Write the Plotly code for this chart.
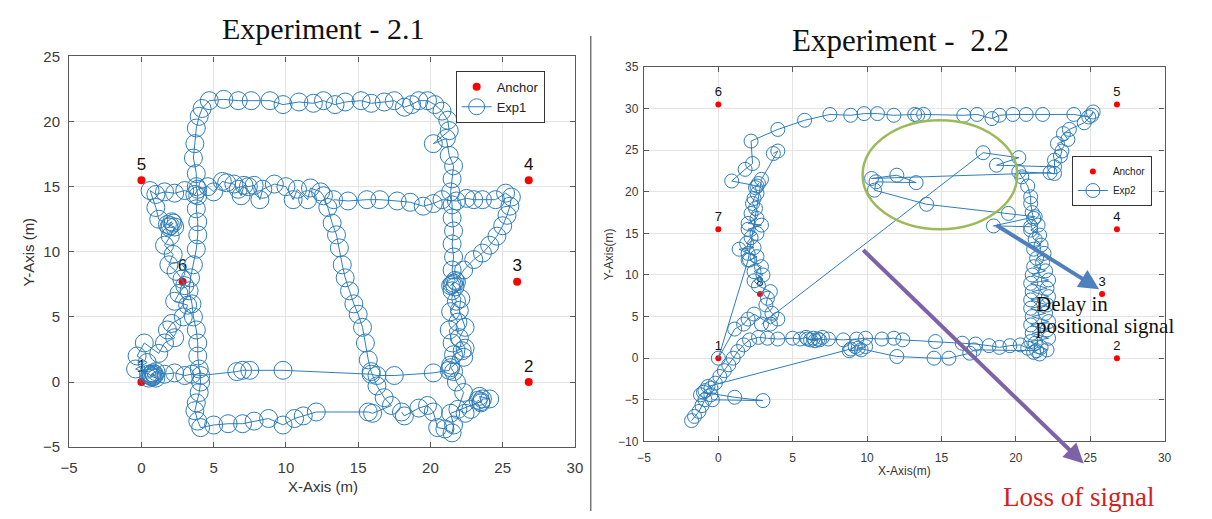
import plotly.graph_objects as go

W, H = 1212, 519

# ---------------- anchors ----------------
anchors1_x = [0.0, 26.8, 26.0, 26.8, 0.0, 2.85]
anchors1_y = [0.0, 0.0, 7.7, 15.5, 15.5, 7.7]
anchors1_lbl = ["1", "2", "3", "4", "5", "6"]

anchors2_x = [0.0, 26.8, 25.8, 26.8, 26.8, 0.0, 0.0, 2.8]
anchors2_y = [0.0, 0.0, 7.7, 15.5, 30.5, 30.5, 15.5, 7.7]
anchors2_lbl = ["1", "2", "3", "4", "5", "6", "7", "8"]

# ---------------- Exp1 track (x, y in metres) ----------------
exp1_start = [(0.7, 0.4), (0.9, 0.6), (0.6, 0.5), (1.0, 0.3), (0.8, 0.7), (0.5, 0.3),
              (0.9, 0.5), (0.7, 0.6), (1.0, 0.8)]
exp1_low_row = [(1.6, 0.6), (2.3, 0.7), (3.0, 0.5), (3.5, 0.6), (4.1, 0.5), (6.6, 0.8),
                (7.0, 0.9), (7.5, 0.9), (9.8, 0.9), (15.9, 0.6), (16.3, 0.5), (17.5, 0.5),
                (20.2, 0.7), (21.3, 0.9)]
exp1_right_up = [(21.4, 1.3), (21.6, 2.1), (22.2, 2.4), (21.5, 3.0), (21.3, 4.0), (21.9, 4.6),
                 (21.4, 5.4), (21.8, 6.2), (21.5, 7.0), (21.6, 7.6), (21.4, 7.4), (21.7, 7.8),
                 (21.5, 8.6), (21.6, 9.6), (21.5, 10.6), (21.6, 11.6), (21.5, 12.6), (21.5, 13.6),
                 (21.4, 14.6), (21.5, 15.6), (21.6, 16.6), (21.3, 17.4), (21.1, 18.7), (20.2, 18.3),
                 (21.3, 19.3), (21.2, 20.1), (20.8, 20.8), (20.3, 21.3), (19.8, 21.6)]
exp1_top_row = [(19.2, 21.6), (18.7, 21.3), (18.2, 21.1), (17.5, 21.6), (16.8, 21.5), (15.9, 21.4),
                (15.2, 21.6), (14.1, 21.5), (13.4, 21.3), (12.6, 21.6), (11.9, 21.4), (10.9, 21.5),
                (9.8, 21.3), (8.9, 21.6), (7.6, 21.6), (6.7, 21.6), (5.7, 21.7), (4.7, 21.6)]
exp1_left_down = [(4.2, 21.0), (4.0, 20.4), (3.8, 19.5), (3.7, 18.3), (3.6, 17.2), (3.8, 16.0),
                  (3.8, 15.0), (3.9, 14.3), (3.8, 13.3), (3.9, 12.3), (3.9, 11.3), (3.8, 10.2),
                  (3.6, 9.0), (3.4, 8.0), (3.3, 7.0), (3.5, 6.0), (3.6, 5.0), (3.8, 4.0),
                  (3.9, 3.0), (3.9, 2.0), (4.0, 1.0), (4.1, 0.0), (4.0, -0.8), (3.8, -1.6),
                  (3.7, -2.2), (3.9, -3.0), (4.1, -3.5)]
exp1_bottom_row = [(5.0, -3.3), (6.0, -3.2), (7.0, -3.2), (7.8, -3.0), (8.8, -2.8), (9.8, -3.3),
                   (10.6, -2.8), (11.2, -2.6), (12.1, -2.3), (15.7, -2.3), (16.0, -2.4), (17.3, -1.8)]
exp1_diagonal = [(16.8, -1.2), (16.3, -0.3), (15.9, 0.8), (15.7, 1.7), (15.5, 3.0), (15.3, 4.2),
                 (15.0, 5.2), (14.7, 6.0), (14.4, 7.0), (14.1, 8.0), (13.9, 9.0), (13.7, 10.3),
                 (13.5, 11.3), (13.2, 12.2), (12.9, 13.4)]
exp1_mid_row_west = [(12.6, 14.3), (12.4, 14.6), (11.7, 14.9), (11.5, 14.0), (10.8, 14.8),
                     (10.5, 14.0), (10.0, 15.0), (9.2, 15.2), (8.4, 14.8), (8.2, 14.0), (7.8, 15.1),
                     (7.4, 15.0), (7.1, 15.1), (6.9, 14.3), (6.7, 14.8), (6.4, 15.2), (5.9, 15.3),
                     (5.6, 15.4), (5.0, 14.6), (4.6, 15.0), (3.9, 14.8), (3.7, 14.4), (3.0, 14.7),
                     (2.3, 14.5), (1.6, 14.6), (1.0, 14.4), (0.6, 14.7)]
exp1_left_zigzag = [(1.0, 13.4), (1.2, 12.5), (2.0, 12.0), (2.2, 12.2), (1.9, 11.9), (2.1, 12.3),
                    (1.8, 12.1), (2.3, 11.9), (2.0, 11.2), (1.6, 10.5), (2.2, 9.8), (1.9, 9.0),
                    (2.4, 8.5), (2.8, 7.9), (3.0, 7.4), (2.6, 6.8), (2.3, 6.2), (3.2, 5.9),
                    (2.9, 5.0), (2.1, 4.5), (1.8, 4.0), (2.3, 3.4), (1.6, 3.0), (1.2, 2.2),
                    (0.2, 3.0), (-0.3, 2.0), (0.4, 1.5), (-0.4, 1.0), (0.5, 0.6), (0.8, 0.4)]
exp1_mid_row_east = [(13.3, 14.0), (14.3, 13.9), (15.6, 14.0), (16.5, 14.0), (17.7, 13.9),
                     (18.6, 13.8), (19.5, 13.5), (20.2, 13.7), (20.8, 14.0), (21.8, 13.9),
                     (22.5, 14.1), (23.0, 14.0), (23.6, 14.0), (24.5, 14.0), (25.2, 14.5), (25.6, 14.2)]
exp1_right_diag = [(25.5, 13.5), (25.3, 12.8), (25.0, 12.0), (24.6, 11.2), (24.1, 10.5), (23.6, 9.9),
                   (23.0, 9.4), (22.3, 8.6), (21.8, 7.7), (21.5, 7.5), (21.7, 7.3)]
exp1_right_down = [(22.1, 6.4), (22.0, 5.5), (22.4, 4.2), (22.0, 3.4), (22.4, 2.6), (22.3, 1.9),
                   (21.4, 1.1), (21.6, 0.8), (21.8, 0.0), (22.3, -0.8), (21.9, -2.1), (22.4, -2.4),
                   (22.8, -2.1), (23.3, -1.4), (23.5, -1.6), (23.6, -1.3), (24.1, -1.3), (23.4, -1.1),
                   (23.5, -1.5), (21.4, -2.4), (21.6, -3.3), (21.5, -3.9), (21.0, -3.6), (20.5, -3.5),
                   (20.2, -2.3), (19.8, -1.8), (19.2, -2.0), (18.2, -2.6), (18.0, -2.3)]

# ---------------- Exp2 track (x, y in metres) ----------------
exp2_start = [(-1.8, -7.5), (-1.6, -7.0), (-1.3, -6.4), (-1.1, -5.7), (-0.9, -5.0), (-1.2, -4.4),
              (-0.9, -3.9), (-0.5, -3.6), (-0.2, -3.0), (0.1, -2.2), (0.4, -1.5), (0.7, -0.8),
              (1.0, 0.0), (1.3, 0.8), (1.7, 1.6), (2.1, 2.2), (2.7, 2.5)]
exp2_bottom_row = [(3.3, 2.4), (4.0, 2.3), (5.0, 2.4), (5.5, 2.3), (5.9, 2.5), (6.2, 2.2), (6.4, 2.4),
                   (6.7, 2.3), (7.0, 2.5), (6.5, 2.1), (6.0, 2.3), (6.8, 2.2), (7.4, 2.3), (8.4, 2.2),
                   (9.3, 2.3), (9.9, 2.4), (11.0, 2.3), (11.8, 2.4), (12.4, 2.2), (14.6, 2.0),
                   (16.4, 1.8), (17.3, 1.7), (18.2, 1.5), (18.9, 1.3), (19.6, 1.5), (20.3, 1.6),
                   (20.8, 1.2), (21.3, 1.8), (21.7, 1.3)]
exp2_right_up = [(21.2, 0.7), (21.6, 0.5), (22.1, 1.0), (21.0, 2.0), (22.2, 2.4), (21.1, 3.0),
                 (22.1, 3.4), (21.0, 4.0), (22.2, 4.4), (21.1, 5.0), (22.0, 5.4), (21.0, 6.0),
                 (22.1, 6.4), (21.0, 7.0), (22.2, 7.4), (21.1, 8.0), (22.1, 8.4), (21.0, 9.0),
                 (22.2, 9.4), (21.1, 10.0), (22.0, 10.5), (21.2, 11.0), (21.8, 11.5), (21.4, 12.0),
                 (21.9, 12.6), (21.2, 13.1), (21.7, 13.6), (21.3, 14.3), (21.6, 14.8), (21.0, 15.4),
                 (21.5, 16.0), (21.2, 16.8), (21.1, 17.5), (21.0, 18.6), (21.0, 19.4), (20.8, 20.7),
                 (20.4, 21.8), (20.2, 22.4), (22.6, 22.2)]
exp2_top_right = [(22.6, 23.8), (23.0, 24.3), (23.1, 24.9), (22.8, 25.8), (23.5, 26.3), (23.2, 27.0),
                  (23.6, 27.5), (24.6, 28.3), (25.1, 29.2), (25.2, 29.6), (24.9, 29.0)]
exp2_top_row = [(23.9, 29.3), (21.8, 29.3), (20.7, 29.3), (19.8, 29.3), (18.9, 29.2), (18.4, 28.8),
                (17.4, 29.3), (16.5, 29.2), (13.8, 29.3), (13.4, 29.2), (13.2, 29.3), (11.8, 29.2),
                (10.7, 29.4), (9.8, 29.4), (8.9, 29.2), (7.5, 29.3), (5.8, 28.6), (4.0, 27.5), (2.2, 26.1)]
exp2_left_down = [(2.3, 23.4), (1.8, 22.7), (0.9, 21.3), (2.6, 20.7), (2.7, 21.0), (2.5, 20.5),
                  (2.6, 19.8), (2.4, 19.2), (2.3, 18.6), (2.5, 18.0), (2.2, 17.4), (2.6, 16.8),
                  (2.0, 16.2), (2.9, 16.0), (2.0, 15.5), (2.6, 15.0), (2.2, 14.5), (1.9, 13.8),
                  (2.4, 13.3), (1.4, 13.1), (2.0, 12.6), (2.6, 12.2), (2.1, 11.8), (2.9, 11.0),
                  (2.4, 10.4), (3.0, 10.0), (2.4, 9.3), (2.7, 8.7), (3.5, 8.0), (3.3, 7.2),
                  (3.2, 6.4), (3.6, 5.4), (4.0, 4.7), (3.5, 4.1), (2.4, 5.3), (2.0, 4.7),
                  (1.7, 4.1), (1.1, 3.5), (0.0, 0.0), (2.0, 11.8), (2.9, 21.5), (4.0, 24.9), (3.7, 24.6)]
exp2_jump_long = [(2.9, 4.1), (17.8, 24.7), (20.2, 24.1), (18.7, 23.2), (22.6, 23.0)]
exp2_jump_loop = [(22.3, 22.3), (10.3, 21.6), (12.0, 22.0), (13.3, 21.1), (10.6, 21.2), (10.5, 20.2),
                  (14.0, 18.5), (19.5, 17.4), (21.3, 17.0), (18.5, 15.9), (21.0, 15.8)]
exp2_second_row = [(-0.7, -3.4), (8.9, 1.1), (9.2, 1.4), (8.8, 0.9), (9.6, 1.0), (9.9, 1.4), (9.4, 1.2),
                   (12.0, 0.2), (14.5, 0.0), (15.5, 0.0), (16.9, 0.6), (17.2, 1.0), (21.4, 0.9)]
exp2_tail = [(-0.5, -4.4), (-1.0, -4.1), (1.1, -4.7), (3.0, -5.1), (-0.4, -5.0)]


def track(*groups):
    """Concatenate groups of segments; a gap (None) separates the groups."""
    xs, ys = [], []
    for gi, group in enumerate(groups):
        if gi:
            xs.append(None)
            ys.append(None)
        for seg in group:
            xs += [p[0] for p in seg]
            ys += [p[1] for p in seg]
    return xs, ys


exp1_x, exp1_y = track(
    [exp1_start, exp1_low_row, exp1_right_up, exp1_top_row, exp1_left_down,
     exp1_bottom_row, exp1_diagonal, exp1_mid_row_west, exp1_left_zigzag],
    [exp1_mid_row_east, exp1_right_diag, exp1_right_down],
)
exp2_x, exp2_y = track(
    [exp2_start, exp2_bottom_row, exp2_right_up, exp2_top_right, exp2_top_row, exp2_left_down],
    [exp2_jump_long], [exp2_jump_loop], [exp2_second_row], [exp2_tail],
)

TRACK_BLUE = "#2E7DBB"
SANS = "Liberation Sans, Arial, sans-serif"
SERIF = "Liberation Serif, Times New Roman, serif"

fig = go.Figure()

# left panel
fig.add_trace(go.Scatter(
    x=anchors1_x, y=anchors1_y, mode="markers+text", text=anchors1_lbl,
    textposition="top center", textfont=dict(family=SANS, size=17, color="#111"),
    marker=dict(color="#FF0000", size=8), name="Anchor", xaxis="x", yaxis="y",
    legend="legend", cliponaxis=False))
fig.add_trace(go.Scatter(
    x=exp1_x, y=exp1_y, mode="lines+markers", name="Exp1", xaxis="x", yaxis="y",
    line=dict(color=TRACK_BLUE, width=1),
    marker=dict(symbol="circle-open", size=18, color=TRACK_BLUE, line=dict(width=1)),
    connectgaps=False, legend="legend"))

# right panel
fig.add_trace(go.Scatter(
    x=anchors2_x, y=anchors2_y, mode="markers+text", text=anchors2_lbl,
    textposition="top center", textfont=dict(family=SANS, size=13, color="#111"),
    marker=dict(color="#FF0000", size=6), name="Anchor", xaxis="x2", yaxis="y2",
    legend="legend2", cliponaxis=False))
fig.add_trace(go.Scatter(
    x=exp2_x, y=exp2_y, mode="lines+markers", name="Exp2", xaxis="x2", yaxis="y2",
    line=dict(color=TRACK_BLUE, width=1),
    marker=dict(symbol="circle-open", size=14, color=TRACK_BLUE, line=dict(width=1)),
    connectgaps=False, legend="legend2"))


def axis_style(dom, rng, size, anchor, standoff):
    return dict(
        domain=dom, range=rng, dtick=5, anchor=anchor,
        showgrid=True, gridcolor="#E4E4E4", gridwidth=1, zeroline=False,
        showline=True, linecolor="#5A5A5A", linewidth=1.3, mirror="ticks",
        ticks="inside", ticklen=5, tickcolor="#5A5A5A", tickwidth=1,
        ticklabelstandoff=standoff,
        tickfont=dict(family=SANS, size=size, color="#3A3A3A"),
    )


fig.update_layout(
    width=W, height=H, margin=dict(l=0, r=0, t=0, b=0),
    paper_bgcolor="white", plot_bgcolor="white",
    xaxis=axis_style([61 / W, 574 / W], [-5, 30], 15, "y", 7),
    yaxis=axis_style([1 - 453 / H, 1 - 49 / H], [-5, 25], 15, "x", 5),
    xaxis2=axis_style([644 / W, 1172 / W], [-5, 30], 12, "y2", 5),
    yaxis2=axis_style([1 - 447 / H, 1 - 60 / H], [-10, 35], 12, "x2", 2),
    legend=dict(x=453 / W, y=1 - 64 / H, xanchor="left", yanchor="top",
                bgcolor="white", bordercolor="#333", borderwidth=1,
                font=dict(family=SANS, size=13, color="#222"), tracegroupgap=0),
    legend2=dict(x=1078 / W, y=1 - 152 / H, xanchor="left", yanchor="top",
                 bgcolor="white", bordercolor="#333", borderwidth=1,
                 font=dict(family=SANS, size=10, color="#222"), tracegroupgap=0),
    showlegend=True,
)


def label(text, px, py, size, family=SANS, color="#333", angle=0, xanchor="center"):
    return dict(text=text, x=px / W, y=1 - py / H, xref="paper", yref="paper",
                xanchor=xanchor, yanchor="middle", showarrow=False, textangle=angle,
                align="left", font=dict(family=family, size=size, color=color))


annotations = [
    label("Experiment - 2.1", 318, 20, 30, SERIF, "#111"),
    label("Experiment -\u00a0 2.2", 904, 33, 31, SERIF, "#111"),
    label("X-Axis (m)", 318, 494, 15),
    label("Y-Axis (m)", 20, 251, 15, angle=-90),
    label("X-Axis(m)", 908, 478, 12),
    label("Y-Axis(m)", 608, 253, 12, angle=-90),
    # delay arrow
    dict(x=25.6, y=8.3, xref="x2", yref="y2", ax=18.6, ay=16.1, axref="x2", ayref="y2",
         showarrow=True, arrowhead=2, arrowsize=1, arrowwidth=4, arrowcolor="#4F7FBC", text=""),
    label("Delay in", 1040, 305, 21, SERIF, "#111", xanchor="left"),
    label("positional signal", 1040, 328, 21, SERIF, "#111", xanchor="left"),
    # loss of signal arrow
    dict(x=1090 / W, y=1 - 470 / H, xref="paper", yref="paper", ax=-222, ay=-215,
         showarrow=True, arrowhead=2, arrowsize=1, arrowwidth=4, arrowcolor="#7E62A8", text=""),
    label("Loss of signal", 1085, 505, 27, SERIF, "#D42020"),
]
fig.update_layout(annotations=annotations)

fig.update_layout(shapes=[
    dict(type="line", xref="paper", yref="paper", x0=590 / W, x1=590 / W, y0=0, y1=1 - 28 / H,
         line=dict(color="#777", width=1.5)),
    dict(type="circle", xref="x2", yref="y2", x0=9.7, x1=20.1, y0=15.5, y1=28.6,
         line=dict(color="#9BBB59", width=2.5)),
])

fig.write_html("out.html")
